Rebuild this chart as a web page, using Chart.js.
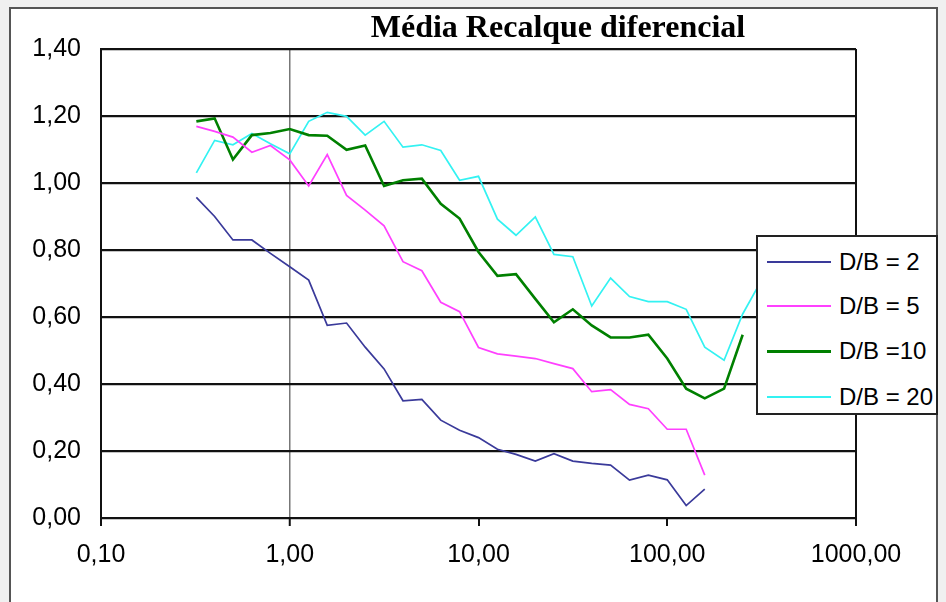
<!DOCTYPE html>
<html>
<head>
<meta charset="utf-8">
<script src="https://cdn.jsdelivr.net/npm/chart.js@4/dist/chart.umd.min.js"></script>
<style>
  body { margin: 0; background: #f0f0f0; width: 946px; height: 602px; overflow: hidden; position: relative; }
  #frame { position: absolute; left: 9px; top: 7px; width: 929px; height: 600px; box-sizing: border-box;
           border: 2px solid #555; border-bottom: none; background: #fff; }
  #histogram { position: absolute; left: 0; top: 0; }
  #title { position: absolute; left: 358px; width: 400px; top: 10px; text-align: center;
           font: bold 32px "Liberation Serif", "Times New Roman", serif; line-height: 32px; color: #000; }
  #legend { position: absolute; left: 756px; top: 235px; width: 182px; height: 180px; box-sizing: border-box;
            border: 2px solid #222; background: #fff; font: 24px "Liberation Sans", Arial, sans-serif; color: #000; }
  .row { position: absolute; left: 0; height: 30px; }
  .swatch { position: absolute; left: 9px; width: 64px; top: 14px; }
  .txt { position: absolute; left: 81px; top: 0; line-height: 30px; white-space: nowrap; }
</style>
</head>
<body>
<div id="frame"></div>
<canvas id="histogram" width="946" height="602"></canvas>
<div id="title">Média Recalque diferencial</div>
<div id="legend"></div>
<script>
// x = relacao, escala logaritmica
var xValues = [0.32, 0.40, 0.50, 0.63, 0.79, 1.00, 1.26, 1.58, 2.00, 2.51, 3.16, 3.98, 5.01, 6.31, 7.94,
               10.0, 12.6, 15.8, 20.0, 25.1, 31.6, 39.8, 50.1, 63.1, 79.4, 100, 126, 158, 200, 251, 316];
var xTicks = [0.1, 1, 10, 100, 1000];

var labels = ["D/B = 2", "D/B = 5", "D/B =10", "D/B = 20"];
var colors = ["#3a3a9a", "#ff40ff", "#008000", "#33f2f2"];
var widths = [1.7, 1.7, 2.6, 1.7];

var db2 = [0.957, 0.90, 0.83, 0.83, 0.79, 0.75, 0.71, 0.575, 0.582, 0.51, 0.445, 0.35, 0.354, 0.292, 0.262,
           0.24, 0.205, 0.19, 0.17, 0.192, 0.17, 0.163, 0.158, 0.113, 0.128, 0.114, 0.037, 0.086];
var db5 = [1.169, 1.154, 1.137, 1.092, 1.112, 1.069, 0.991, 1.085, 0.963, 0.919, 0.872, 0.765, 0.738, 0.644, 0.616,
           0.509, 0.49, 0.483, 0.476, 0.461, 0.446, 0.377, 0.383, 0.339, 0.326, 0.265, 0.265, 0.128];
var db10 = [1.184, 1.193, 1.07, 1.143, 1.149, 1.161, 1.143, 1.141, 1.099, 1.112, 0.991, 1.008, 1.013, 0.938, 0.894,
            0.794, 0.723, 0.728, 0.654, 0.584, 0.623, 0.575, 0.539, 0.539, 0.547, 0.476, 0.386, 0.357, 0.386, 0.547];
var db20 = [1.03, 1.127, 1.114, 1.148, 1.117, 1.087, 1.184, 1.211, 1.199, 1.143, 1.184, 1.107, 1.114, 1.097, 1.008,
            1.02, 0.892, 0.844, 0.899, 0.787, 0.78, 0.633, 0.716, 0.661, 0.646, 0.646, 0.623, 0.51, 0.471, 0.609, 0.71];

var series = [db2, db5, db10, db20];

function toPoints(values) {
  return values.map(function (v, i) { return { x: xValues[i], y: v }; });
}

var datasets = series.map(function (values, k) {
  return {
    label: labels[k],
    data: toPoints(values),
    borderColor: colors[k],
    backgroundColor: colors[k],
    borderWidth: widths[k],
    pointRadius: 0,
    tension: 0,
  };
});

function comma(v) {
  return Number(v).toFixed(2).replace(".", ",");
}

var axisFont = { family: "'Liberation Sans', Arial, sans-serif", size: 25 };

var chart = new Chart(document.getElementById("histogram"), {
  type: "line",
  data: { datasets: datasets },
  options: {
    responsive: false,
    animation: false,
    layout: { padding: { top: 49, right: 90, left: 0, bottom: 0 } },
    plugins: {
      legend: { display: false },
      title: { display: false },
      tooltip: { enabled: false },
    },
    scales: {
      x: {
        type: "logarithmic",
        min: 0.1,
        max: 1000,
        afterBuildTicks: function (scale) {
          scale.ticks = xTicks.map(function (v) { return { value: v }; });
        },
        afterFit: function (scale) { scale.height = 84; },
        ticks: {
          autoSkip: false,
          maxRotation: 0,
          padding: 14,
          color: "#000",
          font: axisFont,
          callback: function (v) { return comma(v); },
        },
        grid: {
          drawOnChartArea: true,
          tickLength: 8,
          color: function (ctx) {
            if (!ctx.tick) return "rgba(0,0,0,0)";
            if (ctx.tick.value === 1) return "#777";
            if (ctx.tick.value === 1000) return "#111";
            return "rgba(0,0,0,0)";
          },
          lineWidth: function (ctx) {
            return ctx.tick && ctx.tick.value === 1 ? 1.5 : 2;
          },
          tickColor: "#111",
          tickWidth: 2,
        },
        border: { display: true, color: "#111", width: 2 },
      },
      y: {
        min: 0,
        max: 1.4,
        afterFit: function (scale) { scale.width = 101; },
        ticks: {
          stepSize: 0.2,
          padding: 20,
          color: "#000",
          font: axisFont,
          callback: function (v) { return comma(v); },
        },
        grid: { color: "#111", lineWidth: 2.2, drawTicks: false },
        border: { display: true, color: "#111", width: 2 },
      },
    },
  },
});

// legenda sobre o grafico, como no original
var legendBox = document.getElementById("legend");
var rowTops = [10, 54, 99, 145];
chart.data.datasets.forEach(function (ds, k) {
  var row = document.createElement("div");
  row.className = "row";
  row.style.top = rowTops[k] + "px";
  var sw = document.createElement("div");
  sw.className = "swatch";
  sw.style.borderTop = (ds.borderWidth + 0.5) + "px solid " + ds.borderColor;
  var t = document.createElement("div");
  t.className = "txt";
  t.textContent = ds.label;
  row.appendChild(sw);
  row.appendChild(t);
  legendBox.appendChild(row);
});
</script>
</body>
</html>
